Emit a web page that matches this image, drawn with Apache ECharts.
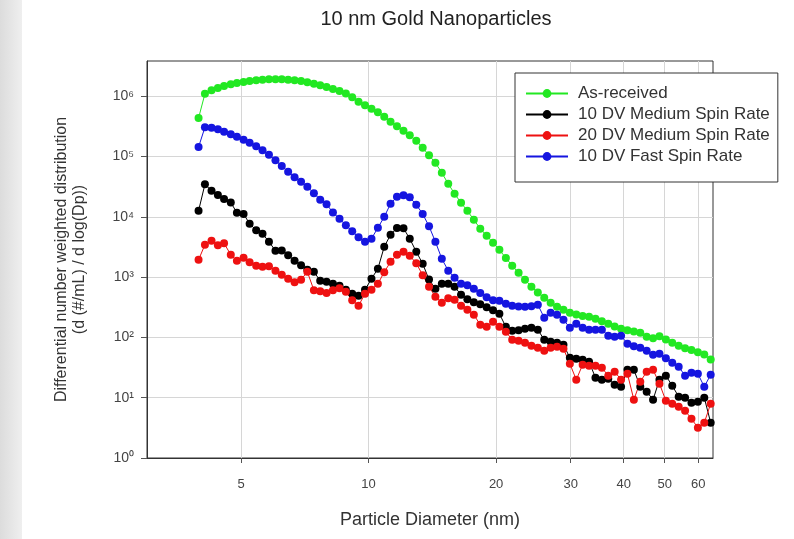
<!DOCTYPE html>
<html>
<head>
<meta charset="utf-8">
<title>10 nm Gold Nanoparticles</title>
<script src="https://cdn.jsdelivr.net/npm/echarts@6/dist/echarts.min.js"></script>
<style>
  html, body { margin: 0; padding: 0; background: #fff; }
  #chart { width: 794px; height: 539px; }
</style>
</head>
<body>
<div id="chart"></div>
<script>
// particle diameter (nm)
const diameters = [
  3.97, 4.11, 4.26, 4.41, 4.56, 4.73, 4.89, 5.07, 5.24, 5.43,
  5.62, 5.82, 6.03, 6.24, 6.46, 6.69, 6.93, 7.17, 7.43, 7.69,
  7.96, 8.24, 8.54, 8.84, 9.15, 9.47, 9.81, 10.16, 10.52, 10.89,
  11.27, 11.67, 12.09, 12.51, 12.96, 13.42, 13.89, 14.38, 14.89, 15.42,
  15.96, 16.53, 17.11, 17.72, 18.35, 19.0, 19.67, 20.36, 21.09, 21.83,
  22.6, 23.4, 24.23, 25.09, 25.98, 26.9, 27.85, 28.84, 29.86, 30.92,
  32.01, 33.14, 34.32, 35.53, 36.79, 38.09, 39.44, 40.83, 42.28, 43.78,
  45.33, 46.93, 48.59, 50.31, 52.09, 53.94, 55.85, 57.82, 59.87, 61.99,
  64.19
]
// As-received
const asReceived = [
  4.35e5, 1.10e6, 1.26e6, 1.37e6, 1.48e6, 1.59e6, 1.66e6, 1.73e6, 1.80e6, 1.85e6,
  1.88e6, 1.91e6, 1.91e6, 1.91e6, 1.88e6, 1.85e6, 1.80e6, 1.71e6, 1.62e6, 1.52e6,
  1.42e6, 1.32e6, 1.22e6, 1.11e6, 9.62e5, 8.11e5, 7.09e5, 6.21e5, 5.43e5, 4.57e5,
  3.78e5, 3.18e5, 2.68e5, 2.25e5, 1.83e5, 1.40e5, 1.05e5, 7.89e4, 5.38e4, 3.54e4,
  2.42e4, 1.71e4, 1.26e4, 8950, 6370, 4880, 3720, 2840, 2080, 1550,
  1180, 906, 693, 556, 455, 376, 323, 288, 257, 240,
  227, 221, 204, 185, 169, 152, 139, 132, 126, 120,
  103, 97, 105, 92, 82, 73, 66, 62, 57, 52,
  43
]
// 10 DV Medium Spin Rate
const dv10Medium = [
  1.26e4, 3.47e4, 2.71e4, 2.30e4, 1.97e4, 1.73e4, 1.17e4, 1.12e4, 7690, 6000,
  5250, 3870, 2740, 2770, 2310, 1870, 1570, 1330, 1230, 871,
  839, 778, 720, 618, 531, 492, 618, 940, 1380, 3190,
  5050, 6520, 6470, 4340, 2640, 1670, 912, 643, 778, 778,
  693, 511, 430, 384, 355, 317, 283, 247, 150, 129,
  132, 139, 145, 134, 91.6, 84.9, 81.7, 75.7, 46.1, 44.4,
  42.7, 39.5, 21.5, 19.9, 20.7, 16.4, 15.2, 29.1, 29.1, 15.2,
  12.6, 9.27, 19.9, 23.2, 15.8, 10.4, 10.0, 8.26, 8.58, 10.0,
  3.85
]
// 20 DV Medium Spin Rate
const dv20Medium = [
  1940, 3450, 4020, 3380, 3650, 2350, 1870, 2100, 1770, 1550,
  1490, 1520, 1280, 1100, 940, 823, 906, 1230, 607, 584,
  545, 607, 655, 573, 414, 336, 531, 618, 778, 1210,
  1800, 2350, 2640, 2260, 1700, 1080, 693, 473, 376, 447,
  422, 336, 288, 238, 162, 150, 182, 150, 124, 91.6,
  88.1, 81.7, 72.8, 67.5, 60.1, 67.5, 70.1, 65.0, 36.6, 19.9,
  35.3, 33.9, 33.9, 31.4, 23.2, 27.0, 19.9, 25.0, 9.27, 18.4,
  27.0, 29.1, 17.1, 8.92, 7.95, 7.09, 6.09, 4.48, 3.18, 3.85,
  7.95
]
// 10 DV Fast Spin Rate
const dv10Fast = [
  1.44e5, 3.06e5, 3.0e5, 2.84e5, 2.58e5, 2.34e5, 2.13e5, 1.91e5, 1.69e5, 1.48e5,
  1.27e5, 1.07e5, 8.7e4, 6.95e4, 5.6e4, 4.55e4, 3.82e4, 3.16e4, 2.47e4, 1.92e4,
  1.62e4, 1.18e4, 9300, 7260, 5770, 4590, 3870, 4340, 6590, 1.0e4,
  1.65e4, 2.15e4, 2.28e4, 2.11e4, 1.59e4, 1.12e4, 6980, 3870, 2020, 1280,
  977, 778, 734, 643, 544, 464, 414, 406, 362, 336,
  327, 323, 329, 349, 212, 257, 238, 197, 145, 169,
  145, 134, 134, 134, 107, 103, 107, 78.6, 71.5, 67.5,
  60.1, 51.6, 53.7, 45.2, 38.0, 32.7, 23.2, 26.0, 25.0, 15.2,
  24.1
]
// tick labels
const xTicks = [5, 10, 20, 30, 40, 50, 60]
const yTicks = [1, 10, 100, 1000, 1e4, 1e5, 1e6]
const seriesNames = ['As-received', '10 DV Medium Spin Rate', '20 DV Medium Spin Rate', '10 DV Fast Spin Rate']
const seriesColors = ['#22e822', '#000000', '#ee1111', '#1515e0']

const font = "'Liberation Sans', Arial, sans-serif"
const sup = ['\u2070', '\u00b9', '\u00b2', '\u00b3', '\u2074', '\u2075', '\u2076']

const makeSeries = (name, values, color) => ({
  name: name,
  type: 'line',
  data: diameters.map((d, i) => [d, values[i]]),
  symbol: 'circle',
  symbolSize: 8,
  showSymbol: true,
  itemStyle: { color: color },
  lineStyle: { color: color, width: 1 },
  emphasis: { disabled: true }
})

const myEcharts = echarts.init(document.getElementById('chart'))
const options = {
  animation: false,
  backgroundColor: '#fff',
  graphic: [
    // grey strip on the left edge
    {
      type: 'rect',
      left: 0, top: 0, z: -10,
      shape: { width: 22, height: 539 },
      style: {
        fill: new echarts.graphic.LinearGradient(0, 0, 1, 0, [
          { offset: 0, color: '#dcdcdc' },
          { offset: 1, color: '#efefef' }
        ])
      }
    },
    {
      type: 'text',
      x: 436, y: 19,
      style: {
        text: '10 nm Gold Nanoparticles',
        font: '20px ' + font,
        fill: '#222',
        textAlign: 'center',
        textVerticalAlign: 'middle'
      }
    }
  ],
  grid: {
    left: 147, right: 81, top: 61, bottom: 81,
    show: true, borderColor: '#333', borderWidth: 1
  },
  legend: {
    data: seriesNames,
    orient: 'vertical',
    left: 515, top: 73,
    padding: [12, 8, 17, 10],
    itemGap: 4,
    itemWidth: 42,
    itemHeight: 11,
    backgroundColor: '#fff',
    borderColor: '#333',
    borderWidth: 1,
    borderRadius: 0,
    textStyle: { fontSize: 17, fontFamily: font, color: '#333', padding: [0, 0, 0, 5] }
  },
  xAxis: {
    type: 'log',
    logBase: 10,
    min: 3,
    max: 65,
    name: 'Particle Diameter (nm)',
    nameLocation: 'middle',
    nameGap: 53,
    nameTextStyle: { fontSize: 18, fontFamily: font, color: '#333' },
    axisLine: { show: true, lineStyle: { color: '#333', width: 1 } },
    axisTick: { show: true, length: 5, customValues: xTicks, lineStyle: { color: '#555' } },
    minorTick: { show: false },
    axisLabel: { customValues: xTicks, margin: 20, fontSize: 13, fontFamily: font, color: '#444', formatter: v => String(v) },
    splitLine: { show: true, lineStyle: { color: '#d6d6d6', width: 1 } }
  },
  yAxis: {
    type: 'log',
    logBase: 10,
    min: 1,
    max: 3.85e6,
    name: 'Differential number weighted distribution\n(d (#/mL) / d log(Dp))',
    nameLocation: 'middle',
    nameGap: 58,
    nameTextStyle: { fontSize: 16, lineHeight: 18, fontFamily: font, color: '#333' },
    axisLine: { show: true, lineStyle: { color: '#333', width: 1 } },
    axisTick: { show: true, length: 6, customValues: yTicks, lineStyle: { color: '#555' } },
    minorTick: { show: false },
    axisLabel: {
      customValues: yTicks,
      margin: 13,
      fontSize: 14,
      fontFamily: font,
      color: '#444',
      formatter: v => '10' + sup[Math.round(Math.log10(v))]
    },
    splitLine: { show: true, lineStyle: { color: '#d6d6d6', width: 1 } }
  },
  series: [
    makeSeries(seriesNames[0], asReceived, seriesColors[0]),
    makeSeries(seriesNames[1], dv10Medium, seriesColors[1]),
    makeSeries(seriesNames[2], dv20Medium, seriesColors[2]),
    makeSeries(seriesNames[3], dv10Fast, seriesColors[3])
  ]
}
myEcharts.setOption(options)
</script>
</body>
</html>
